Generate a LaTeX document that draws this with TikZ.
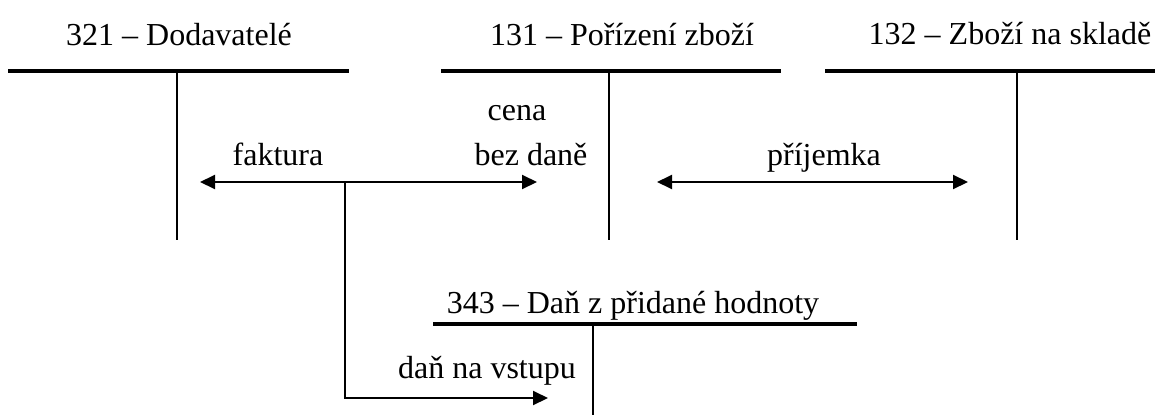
\documentclass[tikz,border=0pt]{standalone}
\usepackage{fontspec}
\setmainfont{Liberation Serif}
\usetikzlibrary{arrows.meta}
\begin{document}
\begin{tikzpicture}[x=1pt,y=-1pt,
  bar/.style={line width=4pt},
  stem/.style={line width=2pt},
  flow/.style={line width=2pt,-{Triangle[length=15pt,width=14pt]}},
  both/.style={line width=2pt,{Triangle[length=15pt,width=14pt]}-{Triangle[length=15pt,width=14pt]}},
  title/.style={anchor=base,inner sep=0pt,font=\fontsize{32}{38}\selectfont},
  lbl/.style={anchor=base,inner sep=0pt,font=\fontsize{32}{38}\selectfont}]
\useasboundingbox (0,0) rectangle (1155,415);

% T-account 321
\node[title] (t321) at (179,45) {321 – Dodavatelé};
\coordinate (a321l) at (8,71);  \coordinate (a321r) at (349,71);
\coordinate (a321t) at (177,71); \coordinate (a321b) at (177,240);
\draw[bar] (a321l) -- (a321r);
\draw[stem] (a321t) -- (a321b);

% T-account 131
\node[title] (t131) at (622,45) {131 – Pořízení zboží};
\coordinate (a131l) at (441,71); \coordinate (a131r) at (781,71);
\coordinate (a131t) at (609,71); \coordinate (a131b) at (609,240);
\draw[bar] (a131l) -- (a131r);
\draw[stem] (a131t) -- (a131b);

% T-account 132
\node[title] (t132) at (1010,44) {132 – Zboží na skladě};
\coordinate (a132l) at (825,71); \coordinate (a132r) at (1155,71);
\coordinate (a132t) at (1017,71); \coordinate (a132b) at (1017,240);
\draw[bar] (a132l) -- (a132r);
\draw[stem] (a132t) -- (a132b);

% T-account 343
\node[title] (t343) at (633,313) {343 – Daň z přidané hodnoty};
\coordinate (a343l) at (433,324); \coordinate (a343r) at (857,324);
\coordinate (a343t) at (593,324); \coordinate (a343b) at (593,415);
\draw[bar] (a343l) -- (a343r);
\draw[stem] (a343t) -- (a343b);

% postings
\coordinate (fL) at (200,182); \coordinate (fR) at (537,182);
\coordinate (fJ) at (345,182); \coordinate (fC) at (345,398);
\coordinate (fV) at (548,398);
\draw[both] (fL) -- (fR);
\draw[flow] (fJ) -- (fC) -- (fV);

\coordinate (pL) at (657,182); \coordinate (pR) at (968,182);
\draw[both] (pL) -- (pR);

% labels
\node[lbl] (lfak) at (278,165) {faktura};
\node[lbl] (lcena) at (517,120) {cena};
\node[lbl] (lbez) at (531,165) {bez daně};
\node[lbl] (lprij) at (824,165) {příjemka};
\node[lbl] (ldan) at (487,378) {daň na vstupu};
\end{tikzpicture}
\end{document}
